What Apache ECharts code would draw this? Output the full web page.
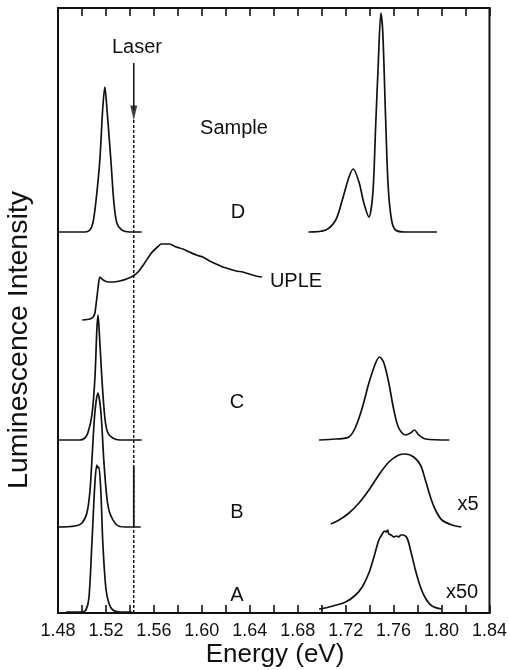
<!DOCTYPE html>
<html><head><meta charset="utf-8">
<script src="https://cdn.jsdelivr.net/npm/echarts@6/dist/echarts.min.js"></script>
<style>html,body{margin:0;padding:0;background:#fff}#c{width:510px;height:670px}</style>
</head><body><div id="c"></div>
<script>
// ---- axis ----
const energyMin = 1.48, energyMax = 1.84, energyTickStep = 0.02, energyLabelStep = 0.04;
const intensityMin = 0, intensityMax = 605;

// ---- baselines (vertical offsets of the stacked spectra) ----
const baseA = 1, baseB = 86, baseC = 173, baseD = 381, baseUPLE = 0;

// ---- laser ----
const laserEnergy = 1.5432;
const laserLineTop = 493;
const laserArrowTop = 550;

// ---- Sample A ----
const aLeftE = [1.4867,1.5000,1.5033,1.5058,1.5083,1.5108,1.5124,1.5133,1.5141,1.5158,1.5174,1.5199,1.5224,1.5257,1.5315,1.5415];
const aLeftI = [0,0,2,14,69,129,147,144,145,119,69,24,9,2,0,0];
const aRightE = [1.6978,1.7061,1.7200,1.7283,1.7338,1.7394,1.7436,1.7477,1.7510,1.7525,1.7538,1.7550,1.7560,1.7580,1.7602,1.7625,1.7643,1.7660,1.7677,1.7712,1.7741,1.7782,1.7824,1.7865,1.7920,1.8003];
const aRightI = [3,5,10,17,25,39,55,72,79,81,80,82,78,77,75,76,75,77,77,74,62,42,25,14,6,3];

// ---- Sample B ----
const bLeftE = [1.4800,1.4941,1.5000,1.5041,1.5066,1.5083,1.5108,1.5133,1.5158,1.5182,1.5207,1.5232,1.5291,1.5357,1.5490];
const bLeftI = [0,1,4,14,35,67,115,134,115,67,30,14,2,0,0];
const bSpikeE = [1.5432,1.5432];
const bSpikeI = [0,60];
const bRightE = [1.7076,1.7145,1.7228,1.7311,1.7394,1.7477,1.7560,1.7643,1.7699,1.7768,1.7824,1.7865,1.7907,1.7949,1.8003,1.8087,1.8165];
const bRightI = [3,7,14,24,37,52,65,72,73,70,62,47,30,17,7,2,0];

// ---- Sample C ----
const cLeftE = [1.4800,1.4983,1.5024,1.5049,1.5083,1.5108,1.5124,1.5133,1.5141,1.5166,1.5191,1.5216,1.5257,1.5315,1.5498];
const cLeftI = [0,0,2,7,25,62,110,125,115,62,22,7,2,0,0];
const cRightE = [1.6978,1.7117,1.7228,1.7283,1.7338,1.7394,1.7450,1.7483,1.7519,1.7560,1.7602,1.7643,1.7699,1.7741,1.7774,1.7810,1.7865,1.8065];
const cRightI = [0,1,3,13,32,57,77,83,77,57,30,12,5,7,10,5,1,0];

// ---- UPLE ----
const upleE = [1.5002,1.5066,1.5093,1.5108,1.5122,1.5135,1.5149,1.5177,1.5218,1.5260,1.5315,1.5371,1.5426,1.5468,1.5523,1.5579,1.5621,1.5662,1.5731,1.5787,1.5842,1.5897,1.5953,1.6008,1.6064,1.6119,1.6174,1.6230,1.6286,1.6341,1.6396,1.6452,1.6502];
const upleI = [293,294,296,300,313,326,336,333,331,331,332,334,337,341,350,360,365,369,369,366,364,361,358,356,352,349,346,344,342,341,339,337,336];

// ---- Sample D ----
const dLeftE = [1.4800,1.5024,1.5066,1.5091,1.5116,1.5149,1.5174,1.5191,1.5207,1.5241,1.5266,1.5291,1.5332,1.5399,1.5498];
const dLeftI = [0,0,2,9,30,72,125,145,125,72,30,9,2,0,0];
const dRightE = [1.6889,1.7034,1.7117,1.7172,1.7228,1.7263,1.7311,1.7352,1.7394,1.7427,1.7450,1.7471,1.7494,1.7510,1.7533,1.7555,1.7583,1.7616,1.7699,1.7962];
const dRightI = [0,2,12,32,55,63,50,29,15,39,105,165,219,199,115,45,12,2,0,0];

// ---- text labels ----
const labelTexts = ['Laser','Sample','D','UPLE','C','B','A','x5','x50'];

function curve(E, I, base) { return E.map((e, i) => [e, I[i] + base]); }

const lineCol = '#111';
function lineSeries(data, smooth, extra) {
  return Object.assign({
    type: 'line', data: data, showSymbol: false, symbol: 'none', smooth: smooth,
    lineStyle: { color: lineCol, width: 1.7 }, silent: true, z: 3
  }, extra || {});
}

const series = [
  lineSeries(curve(aLeftE, aLeftI, baseA), 0.3),
  lineSeries(curve(aRightE, aRightI, baseA), 0.3),
  lineSeries(curve(bLeftE, bLeftI, baseB), 0.3),
  lineSeries(curve(bSpikeE, bSpikeI, baseB), false),
  lineSeries(curve(bRightE, bRightI, baseB), 0.3),
  lineSeries(curve(cLeftE, cLeftI, baseC), 0.3),
  lineSeries(curve(cRightE, cRightI, baseC), 0.3),
  lineSeries(curve(upleE, upleI, baseUPLE), 0.2),
  lineSeries(curve(dLeftE, dLeftI, baseD), 0.3),
  lineSeries(curve(dRightE, dRightI, baseD), 0.3),
  // laser dotted line
  lineSeries([[laserEnergy, intensityMin], [laserEnergy, laserLineTop]], false,
    { lineStyle: { color: lineCol, width: 1.5, type: [3, 2] } }),
  // laser arrow shaft
  lineSeries([[laserEnergy, laserArrowTop], [laserEnergy, laserLineTop + 10]], false,
    { lineStyle: { color: lineCol, width: 1.5 } }),
  // arrow head
  { type: 'scatter', data: [[laserEnergy, laserLineTop + 7]], symbol: 'triangle',
    symbolSize: [7, 15], symbolRotate: 180, itemStyle: { color: lineCol }, silent: true, z: 4 }
];

const font = 'Liberation Sans, Arial, Helvetica, sans-serif';
const labelPos = [[137,47],[234,128],[238,212],[296,281],[237,402],[237,512],[237,595],[468,504],[462,592]];
const graphics = labelTexts.map((t, i) => ({
  type: 'text', x: labelPos[i][0], y: labelPos[i][1], silent: true,
  style: { text: t, fontSize: 20, fontFamily: font, fill: '#111', align: 'center', verticalAlign: 'middle' }
}));
graphics.push({
  type: 'text', x: 19, y: 340, rotation: Math.PI / 2, silent: true,
  style: { text: 'Luminescence Intensity', fontSize: 28.5, fontFamily: font, fill: '#111', align: 'center', verticalAlign: 'middle' }
});
graphics.push({
  type: 'text', x: 275, y: 655, silent: true,
  style: { text: 'Energy (eV)', fontSize: 26, fontFamily: font, fill: '#111', align: 'center', verticalAlign: 'middle' }
});

const tickCommon = {
  min: energyMin, max: energyMax, interval: energyTickStep, type: 'value',
  axisLine: { show: true, onZero: false, lineStyle: { color: '#111', width: 2 } },
  axisTick: { show: true, inside: true, length: 8, lineStyle: { color: '#111', width: 1.6 } },
  splitLine: { show: false }
};

const chart = echarts.init(document.getElementById('c'), null, { renderer: 'canvas' });
chart.setOption({
  animation: false,
  backgroundColor: '#fff',
  grid: { left: 58, right: 19, top: 8, bottom: 57, show: true, borderColor: '#111', borderWidth: 2, backgroundColor: 'transparent' },
  xAxis: [
    Object.assign({}, tickCommon, {
      position: 'bottom',
      axisLabel: { show: true, fontSize: 18, fontFamily: font, color: '#111', margin: 9,
        showMinLabel: true, showMaxLabel: true,
        formatter: v => (Math.round(v / energyTickStep) % Math.round(energyLabelStep / energyTickStep) === 0) ? v.toFixed(2) : '' }
    }),
    Object.assign({}, tickCommon, { position: 'top', axisLabel: { show: false } })
  ],
  yAxis: { type: 'value', min: intensityMin, max: intensityMax,
    axisLine: { show: true, lineStyle: { color: '#111', width: 2 } },
    axisTick: { show: false }, axisLabel: { show: false }, splitLine: { show: false } },
  series: series,
  graphic: graphics
});
</script>
</body></html>
